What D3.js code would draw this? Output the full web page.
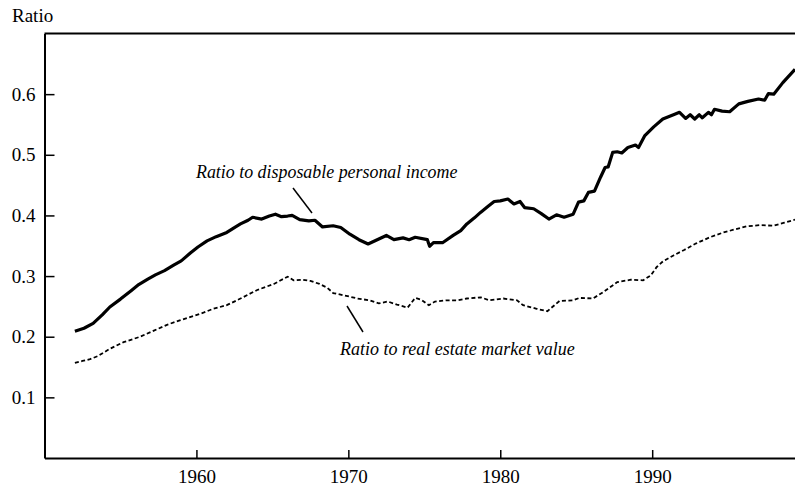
<!DOCTYPE html>
<html>
<head>
<meta charset="utf-8">
<script src="https://cdn.jsdelivr.net/npm/d3@7"></script>
<style>
  html, body { margin: 0; padding: 0; background: #fff; }
  svg { display: block; }
  svg text { font-family: "Liberation Serif", "Tinos", "Times New Roman", Times, "DejaVu Serif", serif !important; fill: #000; }
</style>
</head>
<body>
<svg id="chart" width="795" height="489"></svg>
<script>
// ---- Data ----
const xTickValues = [1960, 1970, 1980, 1990];
const yTickValues = [0.1, 0.2, 0.3, 0.4, 0.5, 0.6];
const yAxisTitle = "Ratio";
const incomeLabel = "Ratio to disposable personal income";
const realEstateLabel = "Ratio to real estate market value";

const incomeYears = [1952.0,1952.6,1953.2,1953.8,1954.3,1955.0,1955.7,1956.2,1956.8,1957.3,1957.9,1958.5,1959.0,1959.6,1960.1,1960.7,1961.3,1962.0,1962.5,1962.9,1963.4,1963.7,1964.3,1964.8,1965.2,1965.6,1966.0,1966.3,1966.8,1967.4,1967.8,1968.3,1969.0,1969.5,1970.1,1970.7,1971.3,1971.9,1972.5,1973.0,1973.6,1974.0,1974.4,1975.2,1975.35,1975.6,1976.2,1976.9,1977.4,1977.8,1978.3,1978.7,1979.2,1979.6,1980.0,1980.5,1980.9,1981.3,1981.6,1982.2,1982.7,1983.2,1983.7,1984.2,1984.8,1985.15,1985.5,1985.8,1986.2,1986.6,1986.9,1987.1,1987.4,1987.7,1988.0,1988.4,1988.9,1989.1,1989.5,1990.1,1990.7,1991.4,1991.8,1992.2,1992.5,1992.8,1993.1,1993.3,1993.7,1993.9,1994.1,1994.6,1995.1,1995.7,1996.3,1997.0,1997.4,1997.65,1998.0,1998.6,1999.4];
const incomeValues = [0.209,0.214,0.222,0.236,0.249,0.262,0.276,0.286,0.295,0.302,0.309,0.318,0.325,0.338,0.348,0.358,0.365,0.372,0.380,0.386,0.392,0.397,0.394,0.399,0.402,0.398,0.399,0.400,0.393,0.391,0.392,0.381,0.383,0.380,0.369,0.360,0.353,0.360,0.367,0.360,0.363,0.360,0.364,0.360,0.349,0.355,0.355,0.367,0.375,0.386,0.396,0.405,0.415,0.423,0.424,0.427,0.419,0.423,0.413,0.411,0.403,0.394,0.401,0.397,0.402,0.422,0.424,0.438,0.440,0.463,0.479,0.480,0.504,0.505,0.503,0.512,0.516,0.512,0.531,0.546,0.559,0.566,0.570,0.560,0.566,0.559,0.566,0.561,0.570,0.566,0.575,0.572,0.571,0.584,0.588,0.592,0.590,0.601,0.600,0.619,0.641];

const realEstateYears = [1952.0,1952.5,1953.0,1953.5,1954.3,1955.2,1956.3,1957.2,1958.1,1958.9,1959.8,1960.5,1961.1,1962.0,1962.9,1964.0,1965.1,1966.0,1966.4,1967.0,1967.5,1968.1,1968.6,1969.0,1970.1,1970.6,1971.4,1972.0,1972.6,1973.2,1973.9,1974.4,1974.8,1975.3,1975.7,1976.5,1977.2,1977.8,1978.7,1979.3,1980.2,1981.1,1981.5,1982.4,1983.1,1983.9,1984.8,1985.2,1986.1,1986.8,1987.7,1988.6,1989.4,1989.9,1990.3,1990.7,1991.4,1992.1,1992.9,1993.8,1994.7,1995.3,1996.2,1997.1,1998.0,1998.7,1999.4];
const realEstateValues = [0.157,0.160,0.163,0.168,0.180,0.191,0.200,0.210,0.220,0.227,0.234,0.240,0.246,0.252,0.263,0.277,0.287,0.299,0.293,0.294,0.292,0.287,0.281,0.272,0.266,0.263,0.260,0.255,0.258,0.253,0.248,0.264,0.261,0.252,0.258,0.260,0.260,0.263,0.265,0.260,0.263,0.260,0.252,0.246,0.242,0.259,0.260,0.264,0.263,0.274,0.290,0.294,0.293,0.301,0.315,0.324,0.334,0.343,0.354,0.364,0.372,0.376,0.382,0.384,0.383,0.388,0.393];

// ---- Layout ----
const FONT = '"Liberation Serif", "Tinos", "Times New Roman", Times, "DejaVu Serif", serif';
const svg = d3.select("#chart");
const mLeft = 44.5, mRight = 795, mTop = 33.5, mBottom = 458;

const x = d3.scaleLinear().domain([1950, 1999.4]).range([mLeft, mRight]);
const y = d3.scaleLinear().domain([0, 0.7]).range([mBottom, mTop]);

const incomeData = incomeYears.map((yr, i) => [yr, incomeValues[i]]);
const realEstateData = realEstateYears.map((yr, i) => [yr, realEstateValues[i]]);

// Top frame line
svg.append("line")
  .attr("x1", mLeft).attr("x2", mRight)
  .attr("y1", mTop).attr("y2", mTop)
  .attr("stroke", "#000").attr("stroke-width", 2);

// X axis
const xAxis = svg.append("g")
  .attr("transform", `translate(0,${mBottom})`)
  .call(d3.axisBottom(x).tickValues(xTickValues).tickFormat(d3.format("d"))
        .tickSizeInner(-8).tickSizeOuter(0).tickPadding(12));
xAxis.attr("font-family", FONT).attr("font-size", 19);
xAxis.select(".domain").attr("stroke-width", 2);
xAxis.selectAll(".tick line").attr("stroke-width", 1.5);
xAxis.selectAll("text").style("font-family", FONT).style("font-size", "19px");

// Y axis
const yAxis = svg.append("g")
  .attr("transform", `translate(${mLeft},0)`)
  .call(d3.axisLeft(y).tickValues(yTickValues).tickFormat(d3.format(".1f"))
        .tickSizeInner(-10).tickSizeOuter(0).tickPadding(9));
yAxis.attr("font-family", FONT).attr("font-size", 19);
yAxis.select(".domain").attr("stroke-width", 2);
yAxis.selectAll(".tick line").attr("stroke-width", 1.5);
yAxis.selectAll("text").style("font-family", FONT).style("font-size", "19px");

// Axis title
svg.append("text")
  .attr("x", 12).attr("y", 22)
  .style("font-family", FONT).style("font-size", "19px")
  .text(yAxisTitle);

// Lines
const line = d3.line().x(d => x(d[0])).y(d => y(d[1]));

svg.append("path")
  .datum(realEstateData)
  .attr("d", line)
  .attr("fill", "none")
  .attr("stroke", "#000")
  .attr("stroke-width", 1.8)
  .attr("stroke-dasharray", "4,2.5");

svg.append("path")
  .datum(incomeData)
  .attr("d", line)
  .attr("fill", "none")
  .attr("stroke", "#000")
  .attr("stroke-width", 3.2)
  .attr("stroke-linejoin", "round");

// Annotations
svg.append("text")
  .attr("x", 196).attr("y", 178)
  .style("font-family", FONT).style("font-size", "17.9px").style("font-style", "italic")
  .text(incomeLabel);
svg.append("line")
  .attr("x1", 293).attr("y1", 188).attr("x2", 312).attr("y2", 213)
  .attr("stroke", "#000").attr("stroke-width", 1.5);

svg.append("text")
  .attr("x", 340).attr("y", 355)
  .style("font-family", FONT).style("font-size", "18px").style("font-style", "italic")
  .text(realEstateLabel);
svg.append("line")
  .attr("x1", 347).attr("y1", 306).attr("x2", 363).attr("y2", 332)
  .attr("stroke", "#000").attr("stroke-width", 1.5);
</script>
</body>
</html>
